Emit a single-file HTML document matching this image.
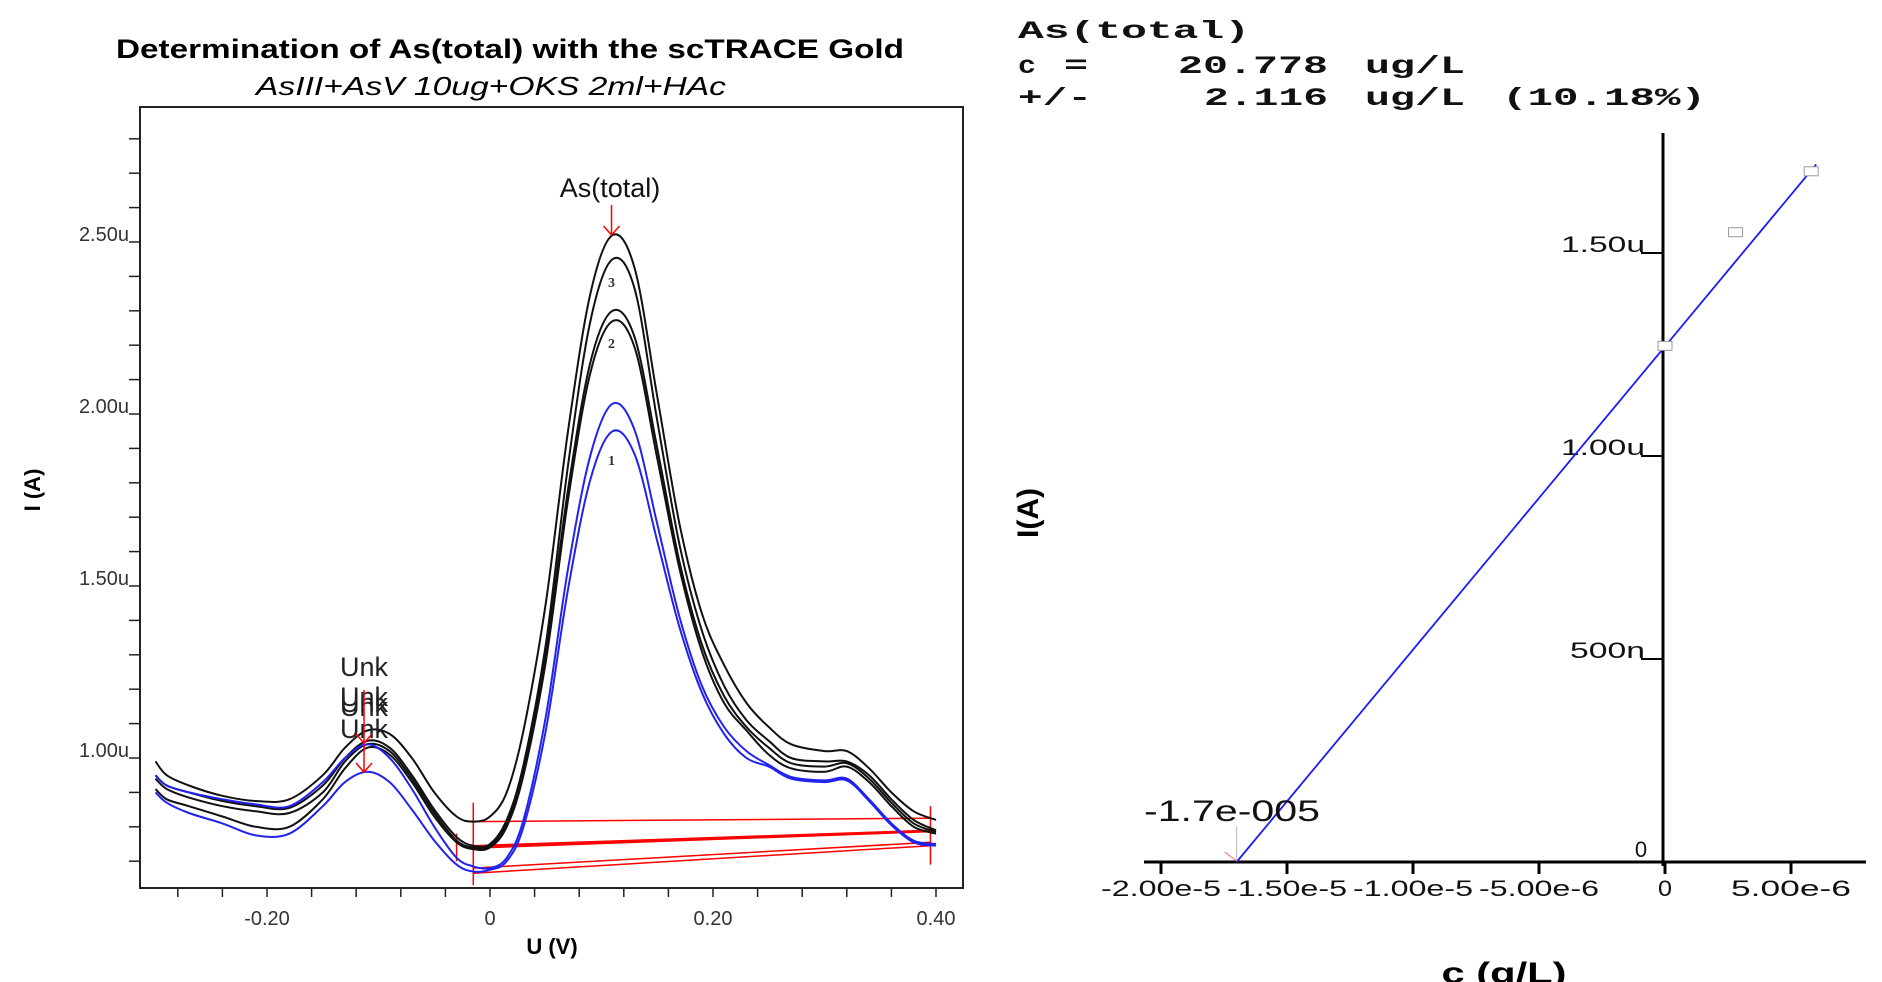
<!DOCTYPE html>
<html><head><meta charset="utf-8"><style>
html,body{margin:0;padding:0;background:#fff;}
svg{display:block;}
</style></head><body>
<svg id="chart" width="1882" height="982" viewBox="0 0 1882 982" xmlns="http://www.w3.org/2000/svg" font-family="Liberation Sans, Arial, sans-serif">
<g id="left"></g>
<g id="right"></g>
</svg>
<script>
// ---------- Left chart data ----------
const voltages = [-0.30,-0.29,-0.27,-0.24,-0.21,-0.18,-0.15,-0.13,-0.11,-0.09,-0.07,-0.05,-0.03,-0.015,0,0.015,0.03,0.05,0.07,0.09,0.11,0.13,0.15,0.17,0.19,0.21,0.23,0.25,0.27,0.30,0.32,0.34,0.36,0.38,0.40];
const curveA = [0.99,0.95,0.92,0.89,0.875,0.88,0.95,1.03,1.08,1.07,1.00,0.90,0.83,0.815,0.83,0.90,1.08,1.45,1.95,2.35,2.52,2.42,2.05,1.68,1.42,1.27,1.16,1.09,1.04,1.02,1.02,0.97,0.90,0.845,0.82];
const curveB = [0.95,0.92,0.90,0.875,0.86,0.855,0.92,1.00,1.05,1.03,0.95,0.85,0.77,0.745,0.75,0.82,0.98,1.33,1.85,2.27,2.45,2.36,1.98,1.62,1.37,1.21,1.11,1.05,1.00,0.99,0.99,0.95,0.88,0.82,0.79];
const curveC = [0.94,0.91,0.885,0.86,0.845,0.84,0.90,0.99,1.04,1.02,0.94,0.84,0.76,0.74,0.745,0.81,0.96,1.30,1.78,2.15,2.30,2.22,1.90,1.57,1.33,1.18,1.09,1.03,0.985,0.975,0.985,0.94,0.87,0.81,0.785];
const curveD = [0.91,0.88,0.86,0.83,0.80,0.80,0.88,0.97,1.03,1.01,0.93,0.83,0.755,0.735,0.74,0.80,0.95,1.28,1.75,2.12,2.27,2.19,1.87,1.55,1.31,1.16,1.08,1.01,0.97,0.96,0.975,0.93,0.86,0.80,0.78];
const curveE = [0.95,0.92,0.90,0.88,0.865,0.86,0.93,1.00,1.04,1.00,0.91,0.80,0.71,0.685,0.68,0.71,0.82,1.12,1.55,1.88,2.03,1.95,1.68,1.41,1.21,1.09,1.02,0.98,0.945,0.935,0.94,0.88,0.81,0.76,0.75];
const curveF = [0.90,0.87,0.84,0.81,0.775,0.78,0.86,0.93,0.96,0.93,0.85,0.76,0.69,0.67,0.675,0.70,0.80,1.08,1.49,1.81,1.95,1.88,1.63,1.38,1.19,1.07,1.00,0.975,0.94,0.93,0.935,0.875,0.805,0.755,0.745];
const baseStart = [0.815,0.745,0.742,0.738,0.68,0.665];
const baseEnd = [0.825,0.79,0.788,0.786,0.755,0.745];
const leftYTicks = [1.0,1.5,2.0,2.5];
const leftYTickLabels = ["1.00u","1.50u","2.00u","2.50u"];
const leftXTicks = [-0.20,0,0.20,0.40];
const leftXTickLabels = ["-0.20","0","0.20","0.40"];
const unkOffsets = [0,30,36,40,62];

// ---------- Right chart data ----------
const calibConc = [0,2.8e-6,5.8e-6];
const calibCurrent = [1.27,1.55,1.70];
const fitIntercept = 1.27;
const xIntercept = -1.7e-5;
const fitEnd = 6.0e-6;
const rightXTicks = [-2e-5,-1.5e-5,-1e-5,-5e-6,0,5e-6];
const rightXTickLabels = ["-2.00e-5","-1.50e-5","-1.00e-5","-5.00e-6","0","5.00e-6"];
const rightYTicks = [0.5,1.0,1.5];
const rightYTickLabels = ["500n","1.00u","1.50u"];

const NS="http://www.w3.org/2000/svg";
function mk(parent,tag,attrs,text){const e=document.createElementNS(NS,tag);for(const k in attrs)e.setAttribute(k,attrs[k]);if(text!==undefined)e.textContent=text;parent.appendChild(e);return e;}
function smooth(pts){let d='M'+pts[0][0].toFixed(1)+','+pts[0][1].toFixed(1);
  for(let i=0;i<pts.length-1;i++){const p0=pts[Math.max(0,i-1)],p1=pts[i],p2=pts[i+1],p3=pts[Math.min(pts.length-1,i+2)];
    const c1x=p1[0]+(p2[0]-p0[0])/6,c1y=p1[1]+(p2[1]-p0[1])/6,c2x=p2[0]-(p3[0]-p1[0])/6,c2y=p2[1]-(p3[1]-p1[1])/6;
    d+=` C${c1x.toFixed(1)},${c1y.toFixed(1)} ${c2x.toFixed(1)},${c2y.toFixed(1)} ${p2[0].toFixed(1)},${p2[1].toFixed(1)}`;}
  return d;}

// left axes
const LX=v=>490+v*1115;
const LY=v=>758-(v-1)*344;
const L=document.getElementById('left');
let t;
t=mk(L,'text',{x:510,y:58,'text-anchor':'middle','font-size':27,'font-weight':'bold',textLength:788,lengthAdjust:'spacingAndGlyphs'},'Determination of As(total) with the scTRACE Gold');


t=mk(L,'text',{x:491,y:95,'text-anchor':'middle','font-size':26,'font-style':'italic',textLength:470,lengthAdjust:'spacingAndGlyphs'},'AsIII+AsV 10ug+OKS 2ml+HAc');


t=mk(L,'rect',{x:140,y:107,width:823,height:781,fill:'none',stroke:'#222','stroke-width':2});


for(let v=0.7;v<=2.85;v+=0.1){const y=LY(v);t=mk(L,'line',{x1:129,x2:140,y1:y,y2:y,stroke:'#222','stroke-width':1.5});

}
leftYTicks.forEach((v,i)=>{t=mk(L,'text',{x:129,y:LY(v)-1,'text-anchor':'end','font-size':20,fill:'#333'},leftYTickLabels[i]);

});
for(let v=-0.28;v<=0.41;v+=0.04){const x=LX(v);t=mk(L,'line',{x1:x,x2:x,y1:888,y2:897,stroke:'#222','stroke-width':1.5});

}
leftXTicks.forEach((v,i)=>{t=mk(L,'text',{x:LX(v),y:925,'text-anchor':'middle','font-size':20,fill:'#333'},leftXTickLabels[i]);

});
t=mk(L,'text',{x:552,y:954,'text-anchor':'middle','font-size':22,'font-weight':'bold'},'U (V)');


t=mk(L,'text',{x:0,y:0,'text-anchor':'middle','font-size':22,'font-weight':'bold',transform:'translate(40,490) rotate(-90)'},'I (A)');



// baselines
baseStart.forEach((b,i)=>{t=mk(L,'line',{x1:LX(-0.015),y1:LY(b),x2:LX(0.395),y2:LY(baseEnd[i]),stroke:'#f00','stroke-width':1.5});

});
[[-0.015,0.63,0.87],[0.395,0.69,0.86],[-0.03,0.70,0.78]].forEach(m=>{t=mk(L,'line',{x1:LX(m[0]),x2:LX(m[0]),y1:LY(m[1]),y2:LY(m[2]),stroke:'#f00','stroke-width':1.5});

});

// curves
const curves=[[curveA,'#111'],[curveB,'#111'],[curveC,'#111'],[curveD,'#111'],[curveE,'#2222ee'],[curveF,'#2222ee']];
curves.forEach((c,i)=>{
  const pts=c[0].map((v,j)=>[LX(voltages[j]),LY(v)]);
  t=mk(L,'path',{d:smooth(pts),fill:'none',stroke:c[1],'stroke-width':2,'stroke-linejoin':'round'});
  
  
});
// peak labels
t=mk(L,'text',{x:610,y:197,'text-anchor':'middle','font-size':27,fill:'#111'},'As(total)');


t=mk(L,'path',{d:`M${LX(0.109)},205 V235 M${LX(0.109)-8},226 L${LX(0.109)},235 L${LX(0.109)+8},226`,fill:'none',stroke:'#f00','stroke-width':1.5});


[['3',282],['2',343],['1',460]].forEach(n=>{t=mk(L,'text',{x:LX(0.109),y:n[1]+5,'text-anchor':'middle','font-size':14,'font-weight':'bold','font-family':'Liberation Serif, serif',fill:'#333'},n[0]);

});
unkOffsets.forEach(o=>{t=mk(L,'text',{x:LX(-0.113),y:676+o,'text-anchor':'middle','font-size':27,fill:'#222'},'Unk');

});
t=mk(L,'path',{d:`M${LX(-0.113)},690 V772 M${LX(-0.113)-8},763 L${LX(-0.113)},772 L${LX(-0.113)+8},763 M${LX(-0.113)-8},734 L${LX(-0.113)},743 L${LX(-0.113)+8},734`,fill:'none',stroke:'#f00','stroke-width':1.5});



// ---------- Right chart ----------
const R=document.getElementById('right');
const RX=v=>1665+v/5e-6*126;
const RY=v=>862-v*406;
const mono={'font-family':'Liberation Mono, monospace','font-weight':'bold','font-size':25,fill:'#111',lengthAdjust:'spacingAndGlyphs'};
const pieces=[["As(total)",1018,38,232],["c",1018,73,18],["=",1064,73,24],["20.778",1178,73,150],["ug/L",1365,73,100],["+/-",1018,105,74],["2.116",1204,105,124],["ug/L",1365,105,100],["(10.18%)",1502,105,204]];
pieces.forEach(p=>{t=mk(R,'text',Object.assign({x:p[1],y:p[2],textLength:p[3]},mono),p[0]);

});
t=mk(R,'line',{x1:1663,x2:1663,y1:133,y2:866,stroke:'#000','stroke-width':3});


t=mk(R,'line',{x1:1144,x2:1866,y1:862,y2:862,stroke:'#000','stroke-width':3});


rightXTicks.forEach((v,i)=>{const x=RX(v);t=mk(R,'line',{x1:x,x2:x,y1:862,y2:874,stroke:'#000','stroke-width':3});


t=mk(R,'text',{x:x,y:896,'text-anchor':'middle','font-size':22,textLength:rightXTickLabels[i].length>1?120:14,lengthAdjust:'spacingAndGlyphs',fill:'#111'},rightXTickLabels[i]);

});
rightYTicks.forEach((v,i)=>{const y=RY(v);t=mk(R,'line',{x1:1641,x2:1663,y1:y,y2:y,stroke:'#000','stroke-width':2});


t=mk(R,'text',{x:1645,y:y-1,'text-anchor':'end','font-size':22,textLength:rightYTickLabels[i].length>4?84:75,lengthAdjust:'spacingAndGlyphs',fill:'#111'},rightYTickLabels[i]);

});
t=mk(R,'text',{x:1641,y:857,'text-anchor':'middle','font-size':22,fill:'#111'},'0');


t=mk(R,'text',{x:1504,y:983,'text-anchor':'middle','font-size':30,'font-weight':'bold',textLength:125,lengthAdjust:'spacingAndGlyphs'},'c (g/L)');


t=mk(R,'text',{x:0,y:0,'text-anchor':'middle','font-size':30,'font-weight':'bold',transform:'translate(1038,513) rotate(-90)'},'I(A)');


// fit line
const slope=fitIntercept/(-xIntercept);
t=mk(R,'line',{x1:RX(xIntercept),y1:RY(0),x2:RX(fitEnd),y2:RY(fitIntercept+slope*fitEnd),stroke:'#1a1aff','stroke-width':1.8});


calibConc.forEach((c,i)=>{t=mk(R,'rect',{x:RX(c)-7,y:RY(calibCurrent[i])-5,width:14,height:9,fill:'#fff',stroke:'#999','stroke-width':1});

});
t=mk(R,'text',{x:1144,y:821,'font-size':30,fill:'#111',textLength:176,lengthAdjust:'spacingAndGlyphs'},'-1.7e-005');


const xi=RX(xIntercept);
t=mk(R,'path',{d:`M${xi},826 V861`,stroke:'#bbb','stroke-width':1,fill:'none'});


t=mk(R,'path',{d:`M${xi-12},852 L${xi},861`,stroke:'#f66','stroke-width':1,fill:'none'});


</script>
</body></html>
